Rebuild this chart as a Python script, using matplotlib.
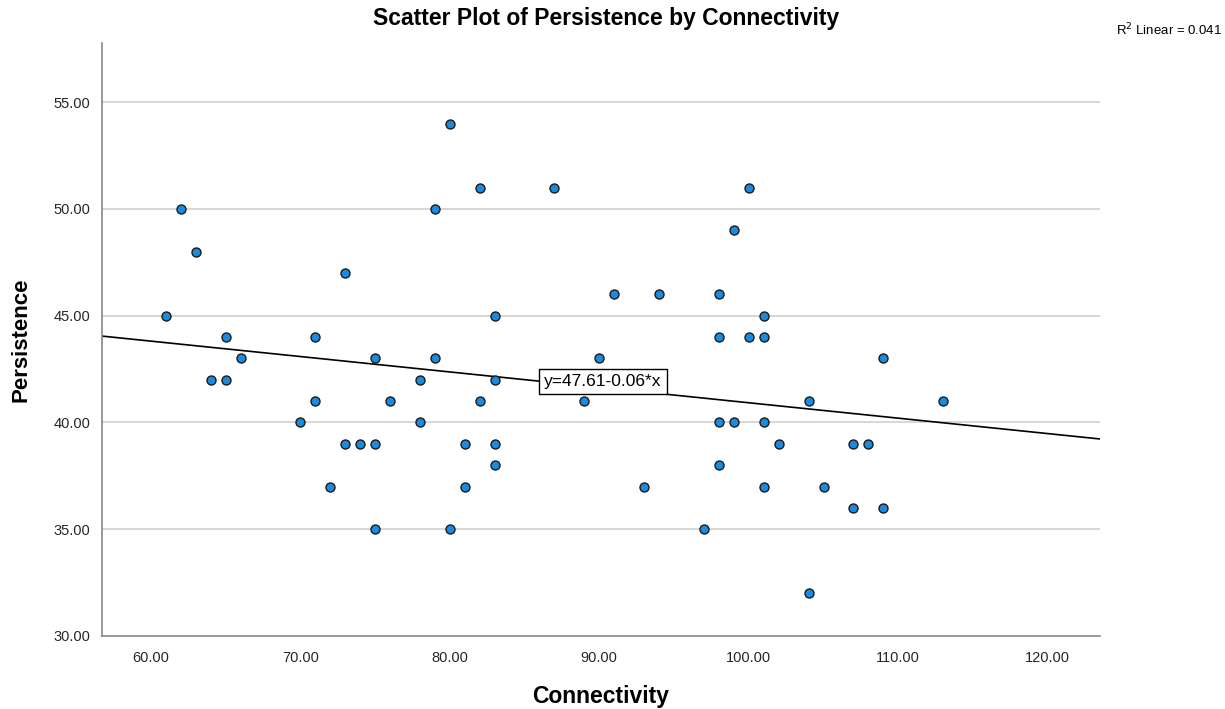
import numpy as np
import matplotlib.pyplot as plt

plt.rcParams['font.family'] = ['Liberation Sans', 'DejaVu Sans']

# Connectivity / Persistence values
connectivity = [61, 62, 63, 64, 65, 65, 66, 70, 71, 71,
                72, 73, 73, 74, 75, 75, 75, 76, 78, 78,
                79, 79, 80, 80, 81, 81, 82, 82, 83, 83,
                83, 83, 87, 89, 90, 91, 93, 94, 97, 98,
                98, 98, 98, 99, 99, 100, 100, 101, 101, 101,
                101, 102, 104, 104, 105, 107, 107, 108, 109, 109,
                113]
persistence = [45, 50, 48, 42, 44, 42, 43, 40, 44, 41,
               37, 47, 39, 39, 43, 39, 35, 41, 42, 40,
               50, 43, 54, 35, 39, 37, 51, 41, 45, 42,
               39, 38, 51, 41, 43, 46, 37, 46, 35, 46,
               44, 40, 38, 49, 40, 51, 44, 45, 44, 40,
               37, 39, 41, 32, 37, 39, 36, 39, 43, 36,
               41]

y_ticks = [30, 35, 40, 45, 50, 55]
x_ticks = [60, 70, 80, 90, 100, 110, 120]
fit_label = "y=47.61-0.06*x"
r2_label = "R$^2$ Linear = 0.041"

x = np.array(connectivity, dtype=float)
y = np.array(persistence, dtype=float)
slope, intercept = np.polyfit(x, y, 1)

fig = plt.figure(figsize=(12.25, 7.09), dpi=100)
ax = fig.add_axes([0.0829, 0.103, 0.8151, 0.836])

xmin, xmax = 56.7, 123.5
ax.set_xlim(xmin, xmax)
ax.set_ylim(30, 57.76)

ax.set_yticks(y_ticks)
ax.set_xticks(x_ticks)
ax.set_yticklabels([f"{v:.2f}" for v in y_ticks], fontsize=10.5, color='#262626')
ax.set_xticklabels([f"{v:.2f}" for v in x_ticks], fontsize=10.5, color='#262626')
ax.tick_params(axis='x', length=0, pad=11)
ax.tick_params(axis='y', length=0, pad=8)

for v in y_ticks[1:]:
    ax.axhline(v, color='#d0d0d0', lw=1.2, zorder=0)

for side in ['top', 'right']:
    ax.spines[side].set_visible(False)
for side in ['left', 'bottom']:
    ax.spines[side].set_color('#888888')
    ax.spines[side].set_linewidth(1.2)

ax.scatter(x, y, s=42, facecolor='#1b8be0', edgecolor='#1a1a1a', linewidth=1.0, zorder=3)

xs = np.array([xmin, xmax])
ax.plot(xs, intercept + slope * xs, color='black', lw=1.2, zorder=2)

lx = 86.3
ax.text(lx, intercept + slope * lx, fit_label, fontsize=12.5, ha='left', va='center',
        bbox=dict(boxstyle='square,pad=0.3', facecolor='white', edgecolor='black', lw=1),
        zorder=5)

fig.text(0.495, 0.974, "Scatter Plot of Persistence by Connectivity", ha='center', va='center',
         fontsize=16.5, fontweight='bold')
fig.text(0.998, 0.957, r2_label, ha='right', va='center', fontsize=9.5)

ax.set_xlabel("Connectivity", fontsize=16.5, fontweight='bold', labelpad=14)
ax.set_ylabel("Persistence", fontsize=16, fontweight='bold', labelpad=16)

fig.savefig("out.png", dpi=100)
